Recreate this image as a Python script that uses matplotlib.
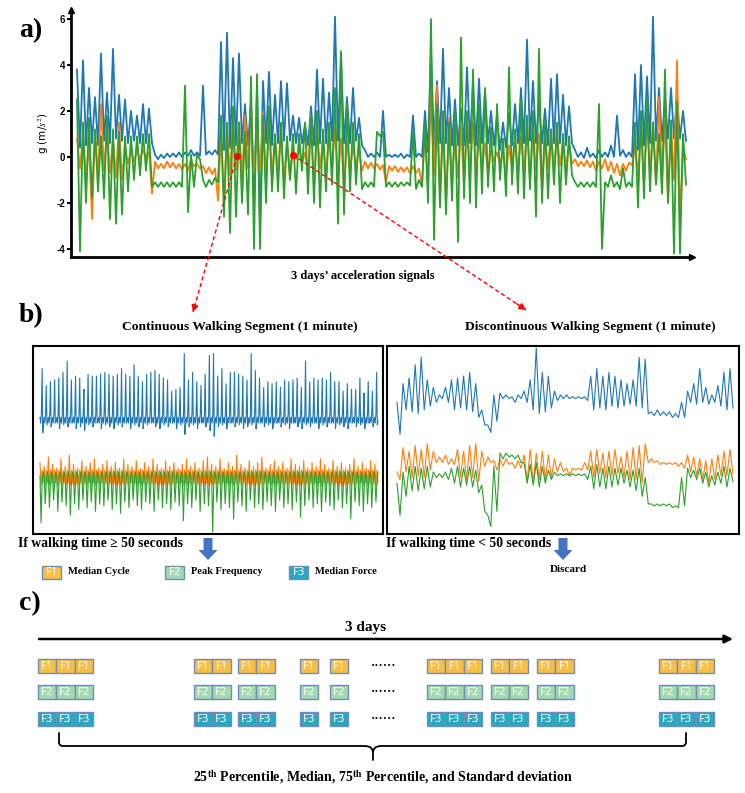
import numpy as np
import matplotlib.pyplot as plt
from matplotlib.patches import FancyArrow, Rectangle

plt.rcParams['mathtext.fontset'] = 'stix'

W, H = 745, 793
SERIF = ['Liberation Serif', 'DejaVu Serif']
BLUE, ORANGE, GREEN = '#1f77b4', '#ff7f0e', '#2ca02c'

# a) 3 days of acceleration, max / min in each time bin (g)
a_blue_hi = [3.8, 4.2, 3.0, 2.6, 4.5, 2.8, 4.7, 2.7, 2.5, 2.0, 1.8, 2.3, 2.1,
             0.1, 0.1, 0.15, 0.15, 0.2, 0.2, 0.3, 0.2, 3.1, 0.25, 0.3,
             5.0, 5.4, 4.3, 4.5, 2.3, 2.4, 3.0, 3.3, 3.7, 2.7, 3.3, 3.2, 1.8, 1.7, 1.4, 2.2, 3.8, 3.4, 2.8, 6.1, 4.5, 2.6, 3.0, 1.7,
             0.3, 0.15, 0.2, 2.0, 0.1, 0.1, 0.15, 0.1, 1.8, 0.15,
             2.0, 4.7, 3.3, 4.7, 3.0, 2.5, 2.1, 3.9, 3.2, 3.4, 2.9, 2.0, 1.8, 1.5, 1.9, 2.3, 3.0, 5.1, 3.3, 2.4, 2.1, 3.4, 3.6, 2.7, 2.2,
             0.3, 0.2, 0.4, 0.15, 0.3, 0.2, 0.5, 1.8, 0.3, 0.2,
             3.6, 4.0, 3.5, 6.1, 3.0, 2.5, 3.0, 2.6, 2.0]
a_blue_lo = [0.4, 0.5, 0.6, 0.5, 0.7, 0.6, 0.8, 0.7, 0.6, 0.7, 0.6, 0.6, 0.6,
             -0.1, -0.05, 0.0, 0.0, 0.0, 0.05, 0.05, 0.05, 0.1, 0.1, 0.1,
             0.3, 0.4, 0.5, 0.6, 0.5, -2.2, -3.1, 0.6, 0.5, 0.6, 0.7, 0.7, 0.6, 0.6, 0.5, 0.5, 0.6, 0.6, 0.7, 0.7, 0.6, 0.6, 0.7, 0.5,
             0.0, 0.0, 0.0, 0.0, 0.0, 0.0, -0.05, 0.0, 0.0, 0.0,
             0.2, 0.5, 0.6, 0.6, 0.5, 0.5, 0.5, 0.6, 0.5, 0.6, 0.6, 0.5, 0.3, 0.4, 0.5, 0.6, 0.6, 0.7, 0.6, 0.6, 0.5, 0.6, 0.6, 0.5, 0.6,
             0.0, -0.05, 0.0, -0.05, 0.0, 0.0, 0.0, 0.05, 0.0, 0.0,
             0.3, 0.5, 0.6, 0.7, 0.7, 0.8, 0.8, 0.8, 0.7]
a_orange_hi = [0.8, 1.0, 0.6, 1.0, 2.3, 1.2, 0.8, 1.5, 0.5, 0.3, 0.3, 0.3, 0.2,
               -0.2, -0.3, -0.2, -0.25, -0.3, -0.3, -0.1, -0.3, -0.4, -0.45, -0.5,
               1.0, 1.3, 1.6, 1.5, 1.8, 2.2, 1.4, 1.9, 1.3, 0.9, 1.1, 0.6, 0.3, 0.4, 0.2, 1.8, 1.2, 0.8, 1.0, 1.3, 0.8, 0.7, 0.5, 0.3,
               -0.2, -0.25, -0.3, -0.35, -0.4, -0.4, -0.45, -0.45, -0.4, -0.5,
               1.0, 2.7, 3.1, 1.2, 1.7, 0.8, 1.3, 1.8, 1.5, 0.8, 0.6, 0.3, 0.2, 0.2, 0.5, 0.9, 0.9, 1.5, 1.1, 1.0, 0.8, 1.2, 1.0, 0.7, 0.6,
               -0.1, -0.2, -0.15, -0.2, -0.2, -0.1, -0.2, -0.3, -0.3, -0.25,
               0.5, 1.3, 1.8, 1.5, 2.6, 1.6, 1.3, 4.2, 0.5]
a_orange_lo = [-0.5, -1.0, -2.7, -0.8, -0.6, -0.7, -0.9, -1.0, -0.3, -0.2, -0.1, 0.0, -1.6,
               -0.5, -0.5, -0.45, -0.5, -0.55, -0.6, -0.4, -0.5, -0.7, -0.75, -1.9,
               -1.9, -0.8, -0.6, -1.0, -0.5, -0.7, -0.6, -0.9, -0.8, -0.7, -1.0, -0.9, -0.1, -0.3, -0.6, -1.4, -0.5, -0.8, -0.6, -1.0, -1.4, -0.6, -0.4, -0.6,
               -0.5, -0.5, -0.55, -1.1, -0.6, -0.65, -0.65, -0.7, -0.7, -1.2,
               -1.3, -0.8, -1.9, -2.0, -1.0, -0.9, -1.2, -0.8, -0.6, -0.5, -0.8, -0.2, -0.3, -0.9, -0.4, -0.7, -0.8, -1.0, -0.6, -1.5, -0.5, -0.6, -0.4, -0.5, -0.3,
               -0.4, -0.4, -0.45, -0.6, -0.5, -0.6, -0.7, -0.8, -0.6, -0.35,
               -0.8, -1.2, -0.8, -1.2, -1.1, -2.0, -1.0, -2.8, -0.1]
a_green_hi = [2.5, 1.5, 1.7, 1.2, 0.9, 1.8, 1.2, 1.1, 0.9, 0.9, 0.9, 1.0, 1.0,
              -1.1, -1.1, -1.1, -1.1, -1.1, 3.1, 0.1, 0.1, -1.0, -1.0, -0.9,
              1.8, 1.5, 2.2, 1.5, 1.1, 3.5, 3.6, 1.8, 2.2, 1.0, 1.5, 0.9, 1.0, 1.0, 1.5, 1.8, 2.0, 1.2, 1.5, 3.0, 4.6, 2.3, 1.5, 1.0,
              -1.1, -1.1, 1.1, 1.1, -1.1, -1.1, -1.1, -1.1, 1.1, -1.0,
              1.5, 6.0, 2.3, 2.0, 1.5, 2.0, 5.2, 2.0, 3.8, 2.3, 3.0, 1.3, 2.3, 0.8, 3.9, 1.2, 2.5, 1.8, 2.0, 4.7, 1.6, 1.2, 1.5, 1.0, 0.9,
              -1.1, -1.1, -1.1, -1.1, 2.3, -1.1, -0.8, -1.1, -0.5, -1.1,
              1.5, 2.0, 2.5, 1.5, 1.0, 3.8, 1.6, 2.4, 1.0]
a_green_lo = [-4.1, -2.0, -1.8, -1.5, -1.8, -2.7, -2.9, -2.5, -1.5, -1.0, -0.8, -0.6, -1.3,
              -1.3, -1.3, -1.3, -1.3, -1.3, -2.4, -1.3, -0.1, -1.3, -1.2, -1.1,
              -2.6, -3.3, -2.6, -2.0, -2.5, -4.0, -4.0, -2.0, -1.5, -1.5, -1.8, -1.0, -1.6, -0.6, -1.6, -2.0, -2.2, -1.5, -1.2, -2.9, -2.5, -1.5, -1.2, -1.4,
              -1.3, -1.3, 0.9, -1.3, -1.3, -1.3, -1.25, -1.25, -1.4, -1.3,
              -2.0, -3.6, -2.2, -2.5, -1.9, -3.7, -1.8, -2.0, -2.2, -1.6, -1.3, -1.5, -1.0, -1.7, -1.2, -1.6, -1.8, -1.4, -2.6, -2.0, -1.8, -1.2, -2.0, -1.2, -0.8,
              -1.3, -1.3, -1.3, -1.3, -4.0, -1.3, -1.3, -1.4, -1.3, -1.3,
              -2.2, -1.8, -1.5, -1.2, -1.6, -2.0, -4.2, -4.2, -1.2]
a_yticks = [-4, -2, 0, 2, 4, 6]

# b) continuous segment, one value per step (box height units)
cw_blue_peak = [0.88, 0.79, 0.81, 0.82, 0.83, 0.86, 0.92, 0.82, 0.84, 0.83, 0.77, 0.85, 0.84, 0.84, 0.85, 0.86,
                0.85, 0.84, 0.85, 0.88, 0.85, 0.84, 0.90, 0.84, 0.81, 0.85, 0.86, 0.87, 0.85, 0.83, 0.82, 0.76,
                0.77, 0.78, 0.96, 0.82, 0.86, 0.81, 0.79, 0.85, 0.95, 0.96, 0.84, 0.88, 0.80, 0.86, 0.86, 0.85,
                0.84, 0.82, 0.96, 0.87, 0.83, 0.78, 0.81, 0.80, 0.81, 0.78, 0.82, 0.81, 0.82, 0.83, 0.78, 0.92,
                0.81, 0.83, 0.82, 0.83, 0.82, 0.86, 0.81, 0.81, 0.76, 0.80, 0.77, 0.77, 0.83, 0.75, 0.81, 0.76, 0.86]
cw_blue_dip = [0.54, 0.58, 0.57, 0.59, 0.56, 0.58, 0.57, 0.59, 0.56, 0.57, 0.55, 0.58, 0.57, 0.59, 0.56, 0.58,
               0.57, 0.56, 0.58, 0.57, 0.59, 0.56, 0.58, 0.57, 0.56, 0.58, 0.59, 0.57, 0.56, 0.58, 0.57, 0.59,
               0.56, 0.58, 0.53, 0.57, 0.58, 0.56, 0.59, 0.57, 0.55, 0.52, 0.57, 0.58, 0.56, 0.59, 0.57, 0.58,
               0.56, 0.57, 0.58, 0.56, 0.59, 0.57, 0.58, 0.56, 0.59, 0.57, 0.58, 0.56, 0.59, 0.57, 0.56, 0.58,
               0.57, 0.59, 0.56, 0.58, 0.57, 0.59, 0.56, 0.58, 0.57, 0.56, 0.59, 0.57, 0.58, 0.56, 0.59, 0.57, 0.58]
cw_orange_peak = [0.38, 0.36, 0.41, 0.37, 0.35, 0.40, 0.36, 0.42, 0.37, 0.35, 0.39, 0.36, 0.38, 0.40, 0.35, 0.37,
                  0.39, 0.36, 0.38, 0.35, 0.40, 0.37, 0.36, 0.39, 0.35, 0.38, 0.36, 0.40, 0.37, 0.35, 0.39, 0.36,
                  0.38, 0.35, 0.37, 0.40, 0.36, 0.38, 0.35, 0.39, 0.41, 0.37, 0.36, 0.40, 0.35, 0.38, 0.36, 0.42,
                  0.37, 0.35, 0.39, 0.36, 0.38, 0.41, 0.35, 0.37, 0.39, 0.36, 0.38, 0.35, 0.40, 0.37, 0.36, 0.39,
                  0.35, 0.38, 0.36, 0.40, 0.37, 0.35, 0.39, 0.36, 0.38, 0.35, 0.37, 0.40, 0.36, 0.38, 0.35, 0.39, 0.37]
cw_green_dip = [0.06, 0.16, 0.14, 0.18, 0.12, 0.17, 0.15, 0.10, 0.16, 0.13, 0.18, 0.14, 0.17, 0.12, 0.16, 0.15,
                0.18, 0.13, 0.16, 0.11, 0.17, 0.14, 0.18, 0.15, 0.13, 0.17, 0.16, 0.12, 0.18, 0.14, 0.16, 0.13,
                0.17, 0.15, 0.07, 0.16, 0.14, 0.18, 0.12, 0.16, 0.15, 0.01, 0.17, 0.13, 0.16, 0.14, 0.08, 0.17,
                0.15, 0.12, 0.18, 0.14, 0.16, 0.13, 0.17, 0.15, 0.12, 0.18, 0.14, 0.16, 0.13, 0.17, 0.09, 0.15,
                0.18, 0.14, 0.16, 0.12, 0.17, 0.15, 0.13, 0.18, 0.14, 0.16, 0.08, 0.17, 0.15, 0.12, 0.16, 0.14, 0.17]

# b) discontinuous segment, max / min per bin (box height units)
dw_blue_hi = [0.70, 0.80, 0.83, 0.90, 0.94, 0.82, 0.78, 0.74, 0.78, 0.82, 0.83, 0.84, 0.86, 0.80, 0.66, 0.58,
              0.74, 0.75, 0.74, 0.73, 0.74, 0.76, 0.82, 0.99, 0.86, 0.84, 0.76, 0.74, 0.74, 0.73, 0.73, 0.73,
              0.84, 0.88, 0.84, 0.86, 0.84, 0.82, 0.80, 0.82, 0.94, 0.93, 0.65, 0.66, 0.65, 0.65, 0.64, 0.70,
              0.76, 0.80, 0.88, 0.78, 0.74, 0.79, 0.86, 0.88]
dw_blue_lo = [0.53, 0.66, 0.65, 0.64, 0.66, 0.68, 0.70, 0.72, 0.70, 0.66, 0.67, 0.66, 0.65, 0.62, 0.58, 0.54,
              0.60, 0.72, 0.72, 0.70, 0.72, 0.70, 0.66, 0.64, 0.65, 0.67, 0.71, 0.72, 0.72, 0.72, 0.72, 0.71,
              0.66, 0.67, 0.66, 0.68, 0.67, 0.68, 0.69, 0.68, 0.67, 0.64, 0.63, 0.63, 0.63, 0.62, 0.62, 0.62,
              0.70, 0.69, 0.70, 0.69, 0.70, 0.68, 0.66, 0.67]
dw_orange_hi = [0.33, 0.46, 0.44, 0.47, 0.45, 0.48, 0.44, 0.41, 0.42, 0.40, 0.45, 0.44, 0.47, 0.48, 0.44, 0.41,
                0.39, 0.40, 0.40, 0.38, 0.39, 0.42, 0.45, 0.43, 0.44, 0.42, 0.40, 0.38, 0.35, 0.35, 0.35, 0.38,
                0.44, 0.45, 0.43, 0.44, 0.45, 0.41, 0.44, 0.46, 0.47, 0.48, 0.40, 0.39, 0.38, 0.38, 0.38, 0.38,
                0.42, 0.41, 0.40, 0.39, 0.40, 0.42, 0.44, 0.45]
dw_orange_lo = [0.29, 0.33, 0.30, 0.31, 0.30, 0.34, 0.38, 0.38, 0.37, 0.37, 0.30, 0.29, 0.30, 0.28, 0.36, 0.38,
                0.34, 0.36, 0.37, 0.35, 0.35, 0.28, 0.27, 0.29, 0.29, 0.30, 0.33, 0.33, 0.31, 0.34, 0.34, 0.34,
                0.30, 0.32, 0.30, 0.31, 0.32, 0.30, 0.29, 0.29, 0.27, 0.38, 0.38, 0.37, 0.37, 0.37, 0.36, 0.35,
                0.33, 0.31, 0.29, 0.27, 0.29, 0.31, 0.31, 0.32]
dw_green_hi = [0.27, 0.33, 0.36, 0.36, 0.35, 0.36, 0.33, 0.32, 0.33, 0.35, 0.36, 0.35, 0.36, 0.34, 0.26, 0.10,
               0.36, 0.43, 0.43, 0.42, 0.42, 0.38, 0.37, 0.38, 0.36, 0.34, 0.33, 0.32, 0.32, 0.32, 0.32, 0.32,
               0.36, 0.37, 0.35, 0.36, 0.35, 0.35, 0.34, 0.34, 0.35, 0.30, 0.16, 0.16, 0.16, 0.16, 0.15, 0.30,
               0.35, 0.34, 0.35, 0.33, 0.31, 0.33, 0.36, 0.35]
dw_green_lo = [0.10, 0.20, 0.23, 0.23, 0.24, 0.25, 0.30, 0.30, 0.29, 0.27, 0.25, 0.26, 0.25, 0.22, 0.12, 0.04,
               0.12, 0.40, 0.41, 0.40, 0.38, 0.27, 0.26, 0.25, 0.27, 0.29, 0.31, 0.31, 0.31, 0.31, 0.31, 0.29,
               0.24, 0.25, 0.24, 0.25, 0.26, 0.27, 0.25, 0.23, 0.20, 0.16, 0.15, 0.15, 0.15, 0.14, 0.14, 0.15,
               0.30, 0.29, 0.27, 0.25, 0.26, 0.27, 0.25, 0.28]

# c) feature boxes along the 3 days
features = ['F1', 'F2', 'F3']
feature_names = ['Median Cycle', 'Peak Frequency', 'Median Force']
feature_colors = ['#F9BF45', '#A3D9AE', '#2AA8C1']
group_sizes = [3, 2, 2, 1, 1, 3, 2, 2, 3]


fig = plt.figure(figsize=(W / 100, H / 100), dpi=100)


def px_axes(x0, y0, x1, y1, **kw):
    return fig.add_axes([x0 / W, 1 - y1 / H, (x1 - x0) / W, (y1 - y0) / H], **kw)


def zigzag(hi, lo):
    y = np.empty(2 * len(hi))
    y[0::2] = hi
    y[1::2] = lo
    return np.arange(len(y)) / 2, y


# ---- a)
ax = px_axes(71, 10, 692, 257)
for hi, lo, c in [(a_blue_hi, a_blue_lo, BLUE), (a_orange_hi, a_orange_lo, ORANGE),
                  (a_green_hi, a_green_lo, GREEN)]:
    x, y = zigzag(hi, lo)
    ax.plot(x, y, color=c, lw=1.3)
ax.set_xlim(-1, len(a_blue_hi) + 0.5)
ax.set_ylim(-4.35, 6.39)
ax.spines[['top', 'right']].set_visible(False)
for s in ['left', 'bottom']:
    ax.spines[s].set_linewidth(2)
ax.plot(1, 0, '>', color='k', ms=5, transform=ax.transAxes, clip_on=False)
ax.plot(0, 1, '^', color='k', ms=5, transform=ax.transAxes, clip_on=False)
ax.set_xticks([])
ax.set_yticks(a_yticks)
ax.set_yticklabels([str(v) for v in a_yticks], fontweight='bold', family='Liberation Sans')
ax.tick_params(axis='y', length=3, width=1.5, labelsize=7, pad=1)
ax.set_ylabel('g (m/$s^2$)', fontsize=7.5, labelpad=4)

# ---- b)
axl = px_axes(33, 346, 383, 534)
seq_b = np.ravel([[0.62, 0.59, 0.64, p, d, 0.60] for p, d in zip(cw_blue_peak, cw_blue_dip)])
seq_o = np.ravel([[p, 0.26, 0.34, 0.27] for p in cw_orange_peak])
seq_g = np.ravel([[0.31, d, 0.27, 0.33] for d in cw_green_dip])
for seq, c in [(seq_b, BLUE), (seq_o, ORANGE), (seq_g, GREEN)]:
    axl.plot(np.linspace(0, 1, len(seq)), seq, color=c, lw=0.8)
axl.set_xlim(-7 / 338, 1 + 5 / 338)

axr = px_axes(387, 346, 739, 534)
for hi, lo, c in [(dw_blue_hi, dw_blue_lo, BLUE), (dw_orange_hi, dw_orange_lo, ORANGE),
                  (dw_green_hi, dw_green_lo, GREEN)]:
    x, y = zigzag(hi, lo)
    axr.plot(x / x.max(), y, color=c, lw=0.8)
axr.set_xlim(-10 / 336, 1 + 6 / 336)

for a in (axl, axr):
    a.set_ylim(0, 1)
    a.set_xticks([])
    a.set_yticks([])
    for s in a.spines.values():
        s.set_linewidth(1.5)

# ---- overlay for labels, arrows and the diagram parts
ov = fig.add_axes([0, 0, 1, 1], zorder=10)
ov.set_xlim(0, W)
ov.set_ylim(H, 0)
ov.axis('off')


def label(x, y, s, size, ha='center', **kw):
    ov.text(x, y, s, ha=ha, va='center', fontsize=size, fontweight='bold', family=SERIF, **kw)


for s, y in [('a)', 31), ('b)', 316), ('c)', 604)]:
    label(19, y, s, 20, ha='left')

label(363, 276, '3 days\u2019 acceleration signals', 9)

# red dashed links from the signal to the two segments
for (x0, y0), (x1, y1) in [((237, 156), (193, 312)), ((293, 155), (526, 310))]:
    ov.plot([x0, x1], [y0, y1], color='red', lw=1, dashes=(3, 2))
    ov.plot(x0, y0, 'o', color='red', ms=4)
    ov.annotate('', xy=(x1, y1), xytext=(x1 - (x1 - x0) * 0.04, y1 - (y1 - y0) * 0.04),
                arrowprops=dict(arrowstyle='-|>', color='red', lw=1, mutation_scale=10,
                                shrinkA=0, shrinkB=0))

label(240, 327, 'Continuous Walking Segment (1 minute)', 9.7)
label(590, 327, 'Discontinuous Walking Segment (1 minute)', 9.7)
label(18, 544, 'If walking time \u2265 50 seconds', 9.8, ha='left')
label(386, 544, 'If walking time < 50 seconds', 9.8, ha='left')
label(568, 569, 'Discard', 8)
for xc in (208, 563):
    ov.add_patch(FancyArrow(xc, 538, 0, 22, width=9, head_width=19, head_length=10,
                            length_includes_head=True, color='#4472C4', lw=0))

for x0, name, fname, fc in zip([42, 165, 289], features, feature_names, feature_colors):
    ov.add_patch(Rectangle((x0, 566), 19, 13, fc=fc, ec='#6F8DB9', lw=1))
    ov.text(x0 + 9.5, 572.5, name, ha='center', va='center', fontsize=8, color='white',
            family='Noto Sans')
    label(x0 + 26, 572, fname, 7.5, ha='left')

# ---- c)
label(366, 627, '3 days', 11)
ov.annotate('', xy=(733, 639), xytext=(39, 639),
            arrowprops=dict(arrowstyle='-|>', color='k', lw=1.8, mutation_scale=12,
                            shrinkA=0, shrinkB=0))

group_x = [38, 194, 238, 300, 330, 427, 491, 537, 659]
box_w, box_h = 18.3, 14
for row_y, name, fc in zip([659, 685, 712], features, feature_colors):
    for gx, n in zip(group_x, group_sizes):
        for k in range(n):
            bx = gx + k * box_w
            ov.add_patch(Rectangle((bx, row_y), box_w, box_h, fc=fc, ec='#6F8DB9', lw=1))
            ov.text(bx + box_w / 2, row_y + box_h / 2 + 0.5, name, ha='center', va='center',
                    fontsize=8, color='white', family='Noto Sans')
    label(384, row_y + box_h / 2, '\u00b7\u00b7\u00b7\u00b7\u00b7\u00b7', 9)

# brace under the boxes
ov.plot([59, 59, 60, 62, 366, 370, 372, 373, 373], [733, 743, 745, 746, 746, 747, 749, 752, 760],
        color='k', lw=1.3, solid_capstyle='round')
ov.plot([373, 374, 376, 380, 683, 685, 686, 686], [752, 749, 747, 746, 746, 745, 743, 733],
        color='k', lw=1.3, solid_capstyle='round')
label(383, 777, r'25$^{\mathbf{th}}$ Percentile, Median, 75$^{\mathbf{th}}$ Percentile, and Standard deviation', 10)

fig.savefig('out.png', dpi=100)
